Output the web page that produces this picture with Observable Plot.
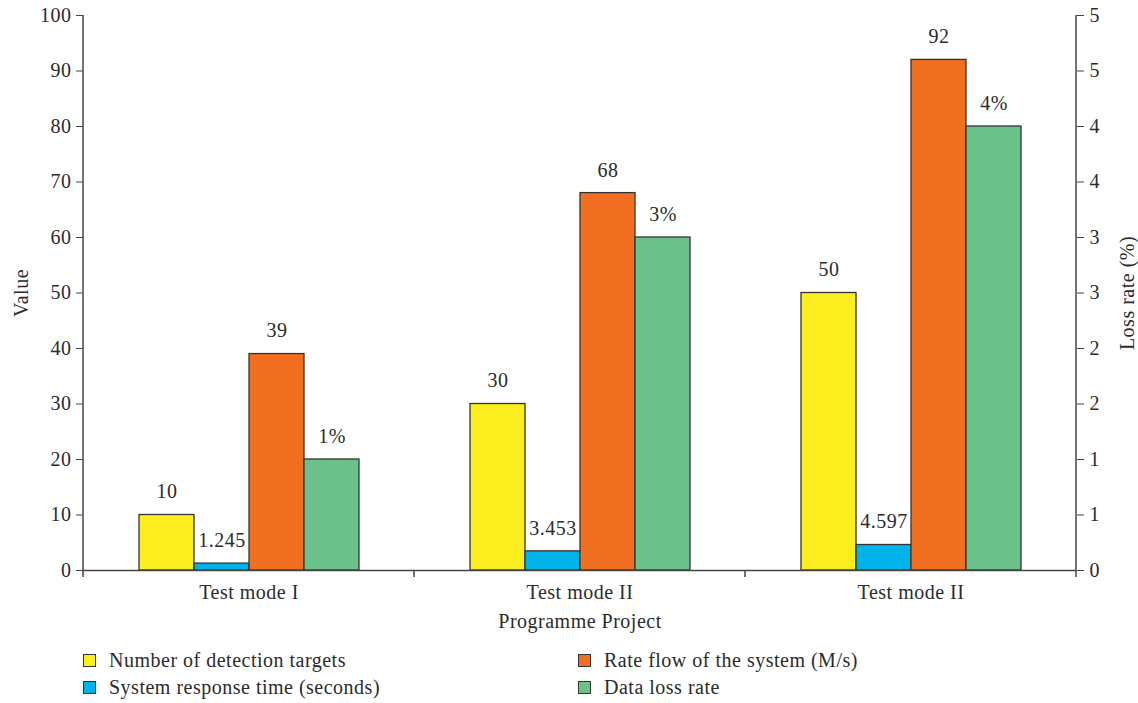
<!DOCTYPE html>
<html>
<head>
<meta charset="utf-8">
<script src="https://cdn.jsdelivr.net/npm/d3@7"></script>
<script src="https://cdn.jsdelivr.net/npm/@observablehq/plot@0.6"></script>
<style>
  body { margin: 0; background: #fff; font-family: "Liberation Serif", serif; }
  #legend { display: grid; grid-template-columns: 495px 495px; margin: 7px 0 0 83px; font-size: 20px; letter-spacing: 0.5px; color: #2b2b2b; }
  .item { display: flex; align-items: center; height: 27px; }
  .sw { width: 11px; height: 11px; border: 1px solid #333; margin-right: 13px; }
</style>
</head>
<body>
<div id="chart"></div>
<div id="legend"></div>
<script>
// ---- data ----
const modeKeys = ["m1", "m2", "m3"];
const modeLabels = ["Test mode I", "Test mode II", "Test mode II"];
const seriesNames = [
  "Number of detection targets",
  "System response time (seconds)",
  "Rate flow of the system (M/s)",
  "Data loss rate"
];
const seriesColors = ["#FCEE1E", "#00B3E9", "#F26F22", "#6AC28A"];
const detectionTargets = [10, 30, 50];
const responseTime = [1.245, 3.453, 4.597];
const rateFlow = [39, 68, 92];
const lossRatePct = [1, 3, 4];
const leftTicks = [0, 10, 20, 30, 40, 50, 60, 70, 80, 90, 100];
const rightTickLabels = ["0", "1", "1", "2", "2", "3", "3", "4", "4", "5", "5"];
const valueAxisMax = 100;
const lossAxisMax = 5;
const legendOrder = [0, 2, 1, 3];

// ---- table ----
const rows = [];
modeKeys.forEach((m, i) => {
  rows.push({mode: m, series: seriesNames[0], value: detectionTargets[i], label: String(detectionTargets[i])});
  rows.push({mode: m, series: seriesNames[1], value: responseTime[i], label: responseTime[i].toFixed(3)});
  rows.push({mode: m, series: seriesNames[2], value: rateFlow[i], label: String(rateFlow[i])});
  rows.push({mode: m, series: seriesNames[3], value: lossRatePct[i] * valueAxisMax / lossAxisMax, label: lossRatePct[i] + "%"});
});

const axisColor = "#444";
const chart = Plot.plot({
  width: 1138,
  height: 640,
  marginTop: 15,
  marginBottom: 70,
  marginLeft: 83,
  marginRight: 62,
  style: {fontFamily: "Liberation Serif, serif", fontSize: "20px", letterSpacing: "0.5px", color: "#2b2b2b", background: "#fff"},
  fx: {domain: modeKeys, padding: 0},
  x: {domain: seriesNames, paddingInner: 0, paddingOuter: 1, axis: null},
  y: {domain: [0, valueAxisMax]},
  color: {domain: seriesNames, range: seriesColors},
  marks: [
    Plot.barY(rows, {fx: "mode", x: "series", y: "value", fill: "series", stroke: "#333", strokeWidth: 1.3}),
    Plot.text(rows, {fx: "mode", x: "series", y: "value", text: "label", dy: -23, fill: "#2b2b2b", fontSize: 20}),
    Plot.ruleY([0], {stroke: axisColor, strokeWidth: 1.5}),
    Plot.axisY(leftTicks, {anchor: "left", tickSize: 7, tickPadding: 5, stroke: axisColor, label: "Value", labelAnchor: "center", labelArrow: "none", labelOffset: 70}),
    Plot.axisY(leftTicks, {anchor: "right", tickSize: 7, tickPadding: 6, stroke: axisColor, tickFormat: (d, i) => rightTickLabels[i], label: "Loss rate (%)", labelAnchor: "center", labelArrow: "none", labelOffset: 57}),
    Plot.axisFx({anchor: "bottom", tickSize: 0, tickPadding: 14, tickFormat: k => modeLabels[modeKeys.indexOf(k)], label: "Programme Project", labelAnchor: "center", labelArrow: "none", labelOffset: 57})
  ]
});
document.getElementById("chart").append(chart);

// axis lines and band boundary ticks from the plot's own scales
const svg = d3.select(chart.tagName.toLowerCase() === "svg" ? chart : chart.querySelector("svg"));
const fx = chart.scale("fx");
const y = chart.scale("y");
const y0 = y.apply(0), yTop = y.apply(valueAxisMax);
const first = fx.apply(modeKeys[0]);
const last = fx.apply(modeKeys[modeKeys.length - 1]) + fx.bandwidth;
const g = svg.append("g").attr("stroke", axisColor).attr("stroke-width", 1.5);
g.append("line").attr("x1", first).attr("x2", first).attr("y1", yTop).attr("y2", y0 + 7);
g.append("line").attr("x1", last).attr("x2", last).attr("y1", yTop).attr("y2", y0 + 7);
modeKeys.slice(1).forEach(k => {
  const xb = fx.apply(k);
  g.append("line").attr("x1", xb).attr("x2", xb).attr("y1", y0).attr("y2", y0 + 7);
});

// legend
const legend = d3.select("#legend");
legendOrder.forEach(i => {
  const it = legend.append("div").attr("class", "item");
  it.append("div").attr("class", "sw").style("background", seriesColors[i]);
  it.append("span").text(seriesNames[i]);
});
</script>
</body>
</html>
